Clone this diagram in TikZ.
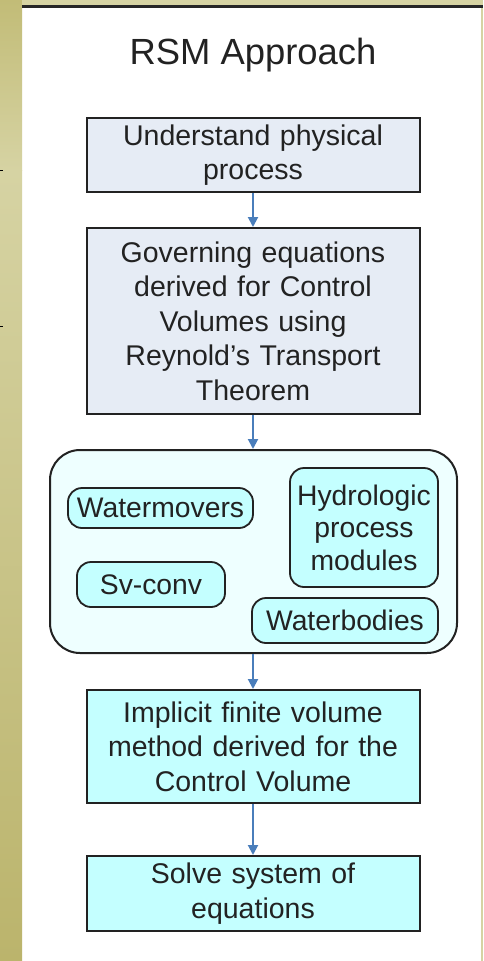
\documentclass[tikz,border=0pt]{standalone}
\usepackage{fontspec}
\setmainfont{Liberation Sans}
\usetikzlibrary{arrows.meta}
\definecolor{olive1}{HTML}{C2BC77}
\definecolor{olive2}{HTML}{D6D3A3}
\definecolor{olive3}{HTML}{BBB46C}
\definecolor{boxgrey}{HTML}{E6ECF5}
\definecolor{boxcyan}{HTML}{C4FFFF}
\definecolor{contfill}{HTML}{EEFFFF}
\definecolor{arrowblue}{HTML}{4A7EBB}
\definecolor{txt}{HTML}{222222}
\tikzset{
  mainbox/.style={draw=txt, line width=2pt, rectangle, minimum width=333pt, text width=320pt, align=center, inner sep=0pt, font=\fontsize{28.5}{34.5}\selectfont, text=txt},
  greybox/.style={mainbox, fill=boxgrey},
  cyanbox/.style={mainbox, fill=boxcyan},
  modbox/.style={draw=txt, line width=1.8pt, rounded corners=14pt, fill=boxcyan, inner sep=0pt, align=center, font=\fontsize{28.3}{33}\selectfont, text=txt},
  flow/.style={draw=arrowblue, line width=2pt, -{Triangle[width=10pt,length=10pt]}}
}
\begin{document}
\begin{tikzpicture}[x=1pt,y=-1pt]
\useasboundingbox (0,0) rectangle (483,961);
\fill[white] (0,0) rectangle (483,961);
% left strip
\shade[top color=olive1, bottom color=olive2] (0,0) rectangle (22,170);
\shade[top color=olive2, bottom color=olive3] (0,170) rectangle (22,961);
% top strip and line
\fill[olive2] (22,0) rectangle (483,5);
\fill[black!85] (22,5) rectangle (483,7.5);
\fill[olive2] (481,7.5) rectangle (483,961);
\draw[black, line width=0.8pt] (0,170) -- (3,170) (0,326) -- (3,326);
% title
\node[font=\fontsize{36.4}{40}\selectfont, text=txt] (title) at (253,55) {RSM Approach};
% boxes
\node[greybox, minimum height=74pt] (b1) at (253,155) {Understand physical\\process};
\node[greybox, minimum height=186pt] (b2) at (253,321) {Governing equations\\derived for Control\\Volumes using\\Reynold’s Transport\\Theorem};
\node[draw=txt, line width=2pt, rounded corners=30pt, fill=contfill, minimum width=407pt, minimum height=203pt, inner sep=0pt] (cont) at (253.5,551.5) {};
\node[modbox, minimum width=185pt, minimum height=40pt] (wm) at (160.5,508) {Watermovers};
\node[modbox, minimum width=148pt, minimum height=45pt] (sv) at (151,584.5) {Sv-conv};
\node[modbox, minimum width=148pt, minimum height=119pt, text width=146pt, font=\fontsize{28.3}{32.5}\selectfont] (hy) at (364,527.5) {Hydrologic\\process\\modules};
\node[modbox, minimum width=186pt, minimum height=45pt] (wb) at (345,620.5) {Waterbodies};
\node[cyanbox, minimum height=113pt] (b3) at (253,746.5) {Implicit finite volume\\method derived for the\\Control Volume};
\node[cyanbox, minimum height=75pt] (b4) at (253,893.5) {Solve system of\\equations};
% connectors
\draw[flow] (b1.south) -- (b2.north);
\draw[flow] (b2.south) -- (b2.south |- cont.north);
\draw[flow] (b3.north |- cont.south) -- (b3.north);
\draw[flow] (b3.south) -- (b4.north);
\end{tikzpicture}
\end{document}
